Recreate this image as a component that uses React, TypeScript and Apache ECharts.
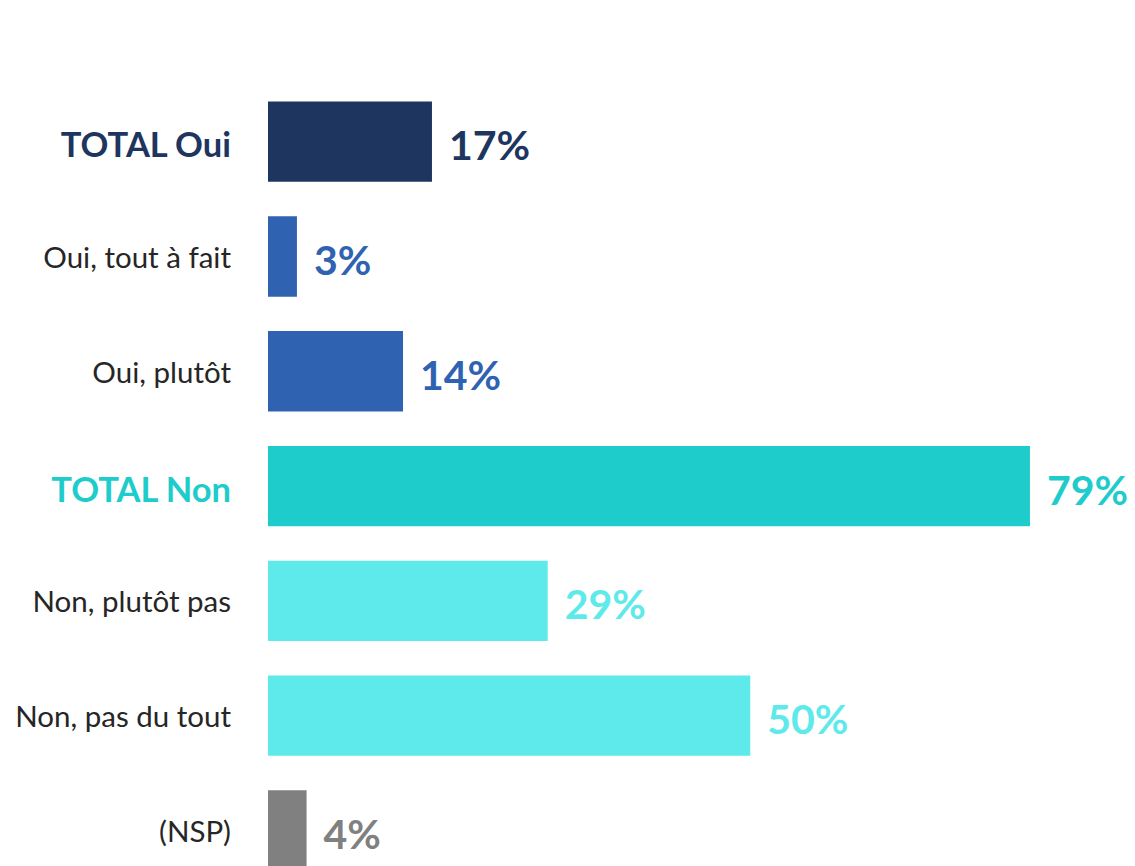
import React, { useEffect, useRef } from "react";
import * as echarts from "echarts";

const categories = [
  "TOTAL Oui",
  "Oui, tout à fait",
  "Oui, plutôt",
  "TOTAL Non",
  "Non, plutôt pas",
  "Non, pas du tout",
  "(NSP)",
];
const values = [17, 3, 14, 79, 29, 50, 4];
const barColors = ["#1E3560", "#3062B2", "#3062B2", "#1FCCCC", "#5EEAEA", "#5EEAEA", "#808080"];
const labelColors = ["#1E3560", "#3062B2", "#3062B2", "#1FCCCC", "#5EEAEA", "#5EEAEA", "#808080"];

const FONT = "Lato, 'Open Sans', sans-serif";

export default function App() {
  const ref = useRef<HTMLDivElement>(null);
  useEffect(() => {
    if (!ref.current) return;
    const chart = echarts.init(ref.current, null, { renderer: "svg" });
    chart.setOption({
      animation: false,
      backgroundColor: "#ffffff",
      grid: { left: 268, right: 95.4, top: 84.3, bottom: 12.2, containLabel: false },
      xAxis: {
        type: "value",
        min: 0,
        max: 80,
        show: false,
      },
      yAxis: {
        type: "category",
        data: categories,
        inverse: true,
        axisLine: { show: false },
        axisTick: { show: false },
        axisLabel: {
          margin: 37,
          fontFamily: FONT,
          formatter: (v: string) => {
            if (v === "TOTAL Oui") return "{oui|" + v + "}";
            if (v === "TOTAL Non") return "{non|" + v + "}";
            return "{n|" + v + "}";
          },
          rich: {
            n: { fontSize: 29.5, color: "#262626", fontFamily: FONT },
            oui: { fontSize: 34.5, fontWeight: "bold", color: "#1E3560", fontFamily: FONT, padding: [4, 0, 0, 0] },
            non: { fontSize: 34.5, fontWeight: "bold", color: "#1FCCCC", fontFamily: FONT, padding: [4, 0, 0, 0] },
          },
        },
      },
      series: [
        {
          type: "bar",
          barCategoryGap: "30%",
          data: values.map((v, i) => ({
            value: v,
            itemStyle: { color: barColors[i] },
            label: { color: labelColors[i] },
          })),
          label: {
            show: true,
            position: "right",
            distance: 17,
            formatter: "{c}%",
            fontFamily: FONT,
            fontWeight: "bold",
            fontSize: 41,
            offset: [0, 3],
          },
        },
      ],
    });
    return () => chart.dispose();
  }, []);
  return (
    <div style={{ position: "fixed", left: 0, top: 0, width: 1135, height: 866, overflow: "hidden", background: "#fff" }}>
      <div ref={ref} style={{ width: 1135, height: 900 }} />
    </div>
  );
}
